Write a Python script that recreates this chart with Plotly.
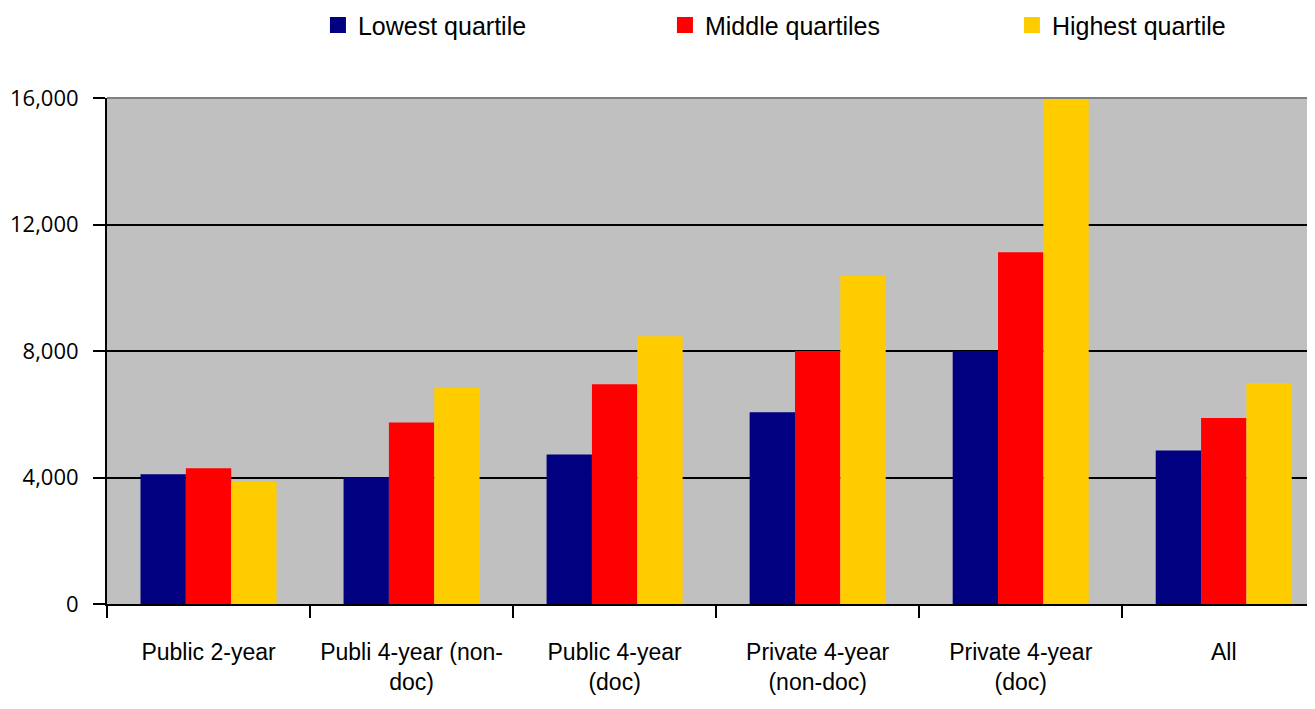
import plotly.graph_objects as go

categories = ["Public 2-year", "Publi 4-year (non-<br>doc)", "Public 4-year<br>(doc)",
              "Private 4-year<br>(non-doc)", "Private 4-year<br>(doc)", "All"]
lowest = [4100, 4010, 4730, 6060, 8000, 4850]
middle = [4290, 5740, 6950, 8000, 11120, 5880]
highest = [3860, 6830, 8470, 10380, 16000, 6990]
series_names = ["Lowest quartile", "Middle quartiles", "Highest quartile"]
colors = ["#000080", "#FF0000", "#FFCC00"]
y_ticks = [0, 4000, 8000, 12000, 16000]

narrow = "Liberation Sans Narrow, Arial Narrow, Liberation Sans, Arial, sans-serif"

fig = go.Figure()
for name, vals, col in zip(series_names, [lowest, middle, highest], colors):
    fig.add_trace(go.Bar(x=categories, y=vals, name=name, marker_color=col,
                         marker_line_width=0, showlegend=False))
for name, col in zip(series_names, colors):
    fig.add_trace(go.Scatter(x=[None], y=[None], mode="markers", name=name,
                             marker=dict(symbol="square", size=22, color=col)))

fig.update_layout(
    width=1299, height=693,
    margin=dict(l=99, r=0, t=90, b=97, autoexpand=False),
    plot_bgcolor="#C0C0C0", paper_bgcolor="white",
    barmode="group", bargap=0.33, bargroupgap=0,
    legend=dict(orientation="h", xref="container", yref="container",
                x=0.2386, y=0.975, xanchor="left", yanchor="middle",
                entrywidth=302, itemsizing="trace",
                font=dict(family=narrow, size=25, color="black")),
    showlegend=True,
)
fig.update_xaxes(range=[-0.5, 5.41], showline=True, linecolor="black", linewidth=2,
                 ticks="outside", tickson="boundaries", ticklen=12, tickwidth=1.5,
                 tickcolor="black", showgrid=False, ticklabelstandoff=26,
                 tickangle=0, automargin=False,
                 tickfont=dict(family=narrow, size=23, color="black"))
fig.update_yaxes(range=[0, 16000], tickvals=y_ticks, tickformat=",",
                 showline=True, linecolor="black", linewidth=2, automargin=False,
                 ticks="outside", ticklen=12, tickwidth=1.5, tickcolor="black",
                 showgrid=True, gridcolor="black", gridwidth=2, zeroline=False,
                 ticklabelstandoff=10,
                 tickfont=dict(family="Open Sans, sans-serif", size=22, color="black"))
fig.add_shape(type="line", xref="paper", yref="paper", x0=0, x1=1, y0=1, y1=1,
              line=dict(color="#808080", width=2))

fig.write_html("out.html")
